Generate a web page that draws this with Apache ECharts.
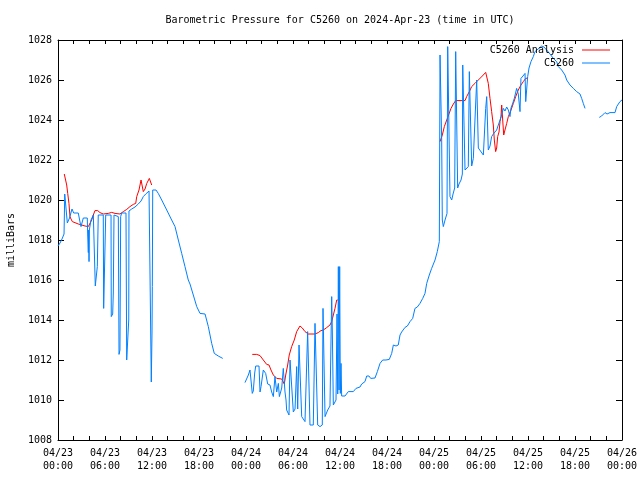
<!DOCTYPE html>
<html>
<head>
<meta charset="utf-8">
<script src="https://cdn.jsdelivr.net/npm/echarts@6/dist/echarts.min.js"></script>
<style>html,body{margin:0;padding:0;background:#fff}#c{width:640px;height:480px}</style>
</head>
<body>
<div id="c"></div>
<script>
// Hours since 2024-04-23 00:00 UTC; null marks a gap
const stationHours = [
0.00,0.26,0.51,0.77,0.86,1.02,1.19,1.28,1.47,1.66,1.79,1.95,2.00,2.59,2.81,2.94,3.15,3.23,3.74,3.79,3.87,3.92,3.96,4.00,4.21,4.51,4.72,4.76,4.94,5.02,5.14,5.78,5.83,6.00,6.09,6.77,6.80,6.98,7.06,7.15,7.70,7.79,7.91,8.00,8.13,8.68,8.77,8.94,9.03,9.06,9.41,9.83,10.25,10.60,10.89,11.20,11.62,11.83,11.91,12.00,12.04,12.09,
12.17,12.51,12.80,13.24,13.88,14.51,14.94,15.36,15.79,16.21,16.63,16.85,17.07,17.27,17.71,18.13,18.77,19.19,19.62,19.95,20.46,21.03,
22.0,
23.87,24.30,24.51,24.72,24.80,24.93,25.11,25.24,25.66,25.79,25.92,26.21,26.51,26.77,27.06,27.28,27.49,27.70,27.92,28.13,28.26,28.56,28.76,28.98,29.11,29.19,29.49,29.62,29.83,30.04,30.26,30.47,30.60,30.77,30.94,31.11,31.32,31.53,31.75,31.87,31.95,32.17,32.38,32.59,32.81,33.02,33.15,33.45,33.74,33.83,33.96,34.09,34.43,34.72,34.94,35.02,35.15,35.49,35.62,35.71,35.79,35.88,35.96,36.04,36.13,36.21,36.64,37.06,37.70,38.04,38.55,38.77,39.19,39.41,39.70,39.92,40.47,40.77,41.11,41.45,41.70,41.87,42.29,42.60,42.81,43.15,43.44,43.66,43.87,44.30,44.60,44.94,45.28,45.57,45.87,46.21,46.56,46.85,47.07,47.40,47.70,48.13,48.42,48.68,
48.77,48.89,48.98,49.06,49.19,49.41,49.66,49.75,49.91,50.04,50.26,50.43,50.64,50.77,50.89,51.02,51.19,51.45,51.62,51.67,51.83,51.96,52.17,52.38,52.51,52.68,52.81,53.02,53.23,53.45,53.57,53.66,53.87,54.30,54.60,54.73,54.85,54.93,55.15,55.36,55.57,55.79,56.00,56.21,56.43,56.64,56.85,57.06,57.28,57.49,57.70,57.83,58.02,58.25,58.55,58.76,58.98,59.10,59.36,59.62,59.71,59.87,59.96,60.13,60.38,60.68,60.89,61.11,61.75,62.04,62.38,62.81,63.23,63.66,63.87,64.30,64.72,64.94,65.36,65.79,66.21,66.64,66.85,67.06,67.28,
68.2,
69.10,69.40,69.57,69.83,70.09,70.47,71.11,71.32,71.74,72.00
];
const stationPressure = [
1017.7,1017.85,1018.05,1018.3,1020.3,1020.3,1018.85,1018.9,1019.1,1019.15,1019.55,1019.55,1019.35,1019.35,1018.9,1018.67,1018.67,1019.1,1019.1,1018.25,1017.37,1018.5,1016.92,1018.5,1019.0,1019.25,1019.25,1015.7,1015.75,1016.67,1019.25,1019.25,1014.58,1014.65,1019.25,1019.25,1014.17,1014.3,1015.35,1019.25,1019.17,1012.28,1012.5,1019.17,1019.35,1019.35,1012.0,1012.1,1014.0,1019.45,1019.55,1019.65,1019.8,1019.95,1020.17,1020.3,1020.45,1020.47,1010.9,1013.35,1015.67,1020.5,
1020.53,1020.5,1020.33,1020.0,1019.5,1019.0,1018.67,1018.0,1017.33,1016.67,1016.0,1015.8,1015.75,1015.25,1014.67,1014.33,1014.3,1013.67,1012.83,1012.33,1012.2,1012.08,
null,
1010.87,1011.25,1011.5,1011.5,1010.33,1010.45,1011.35,1011.7,1011.7,1010.4,1010.67,1011.5,1011.33,1010.8,1010.75,1010.4,1010.17,1011.17,1010.4,1010.83,1010.17,1010.6,1011.58,1010.4,1010.0,1009.5,1009.25,1012.0,1011.9,1009.4,1009.55,1011.67,1009.55,1012.75,1012.8,1009.17,1009.1,1008.92,1008.83,1013.42,1013.42,1008.75,1008.67,1008.75,1013.83,1013.9,1008.75,1008.67,1008.75,1014.58,1014.58,1009.17,1009.5,1009.7,1015.17,1013.5,1009.75,1010.0,1014.3,1010.3,1016.67,1010.5,1016.67,1010.33,1011.83,1010.2,1010.2,1010.42,1010.42,1010.58,1010.65,1010.8,1010.92,1011.2,1011.2,1011.08,1011.1,1011.42,1011.83,1012.0,1011.9,1012.0,1012.03,1012.33,1012.75,1012.7,1012.75,1013.25,1013.4,1013.63,1013.7,1013.92,1014.08,1014.58,1014.65,1014.83,1015.08,1015.33,1015.83,1016.25,1016.58,1017.0,1017.42,1017.92,
1027.25,1027.3,1023.0,1019.0,1018.67,1019.0,1019.33,1027.67,1027.7,1020.17,1020.0,1020.3,1020.6,1027.42,1027.35,1020.6,1020.8,1021.0,1021.3,1026.75,1026.7,1021.5,1021.4,1021.67,1026.42,1026.35,1021.7,1022.08,1022.08,1026.0,1025.95,1022.6,1022.5,1022.25,1024.58,1025.17,1025.1,1022.5,1022.7,1023.17,1023.3,1023.4,1023.5,1023.75,1024.0,1024.25,1024.58,1024.45,1024.65,1024.5,1024.17,1024.6,1024.8,1025.08,1025.58,1025.3,1024.42,1026.08,1026.2,1026.33,1024.92,1024.92,1026.17,1026.6,1026.92,1027.17,1027.42,1027.5,1027.7,1027.65,1027.5,1027.3,1027.08,1026.92,1026.67,1026.5,1026.25,1026.0,1025.75,1025.58,1025.42,1025.3,1025.08,1024.83,1024.58,
null,
1024.13,1024.2,1024.3,1024.37,1024.3,1024.37,1024.37,1024.67,1024.92,1025.0
];
const analysisHours = [
0.80,0.93,1.11,1.24,1.40,1.53,1.66,1.83,2.59,3.45,3.87,4.09,4.30,4.51,4.72,5.07,5.36,5.78,6.42,6.85,7.28,7.91,8.34,8.77,9.19,9.61,9.92,10.05,10.34,10.60,10.76,10.89,11.11,11.33,11.66,11.87,11.96,
18.0,
24.80,25.37,25.79,26.21,26.64,26.94,27.19,27.49,27.92,28.56,28.89,29.07,29.32,29.52,29.83,30.16,30.47,30.89,31.19,31.53,31.95,32.81,33.23,33.57,33.87,34.30,34.72,34.94,35.15,35.36,35.58,35.71,
42.0,
48.77,48.98,49.06,49.32,49.53,49.75,49.91,50.17,50.47,50.77,51.32,51.96,52.17,52.51,52.81,53.23,53.66,54.17,54.60,54.85,54.93,55.15,55.36,55.57,55.70,55.87,56.00,56.13,56.30,56.43,56.55,56.64,56.77,56.90,57.06,57.28,57.49,57.83,58.13,58.43,58.76,59.10,59.40,59.71,59.96
];
const analysisPressure = [
1021.3,1021.2,1020.75,1020.33,1019.83,1019.17,1019.05,1018.92,1018.8,1018.7,1018.67,1018.67,1019.0,1019.25,1019.47,1019.47,1019.37,1019.3,1019.33,1019.38,1019.33,1019.3,1019.42,1019.53,1019.67,1019.78,1019.83,1020.17,1020.5,1021.0,1021.0,1020.42,1020.55,1020.83,1021.08,1021.17,1020.75,
null,
1012.28,1012.28,1012.22,1012.0,1011.78,1011.75,1011.5,1011.25,1011.08,1011.05,1010.8,1011.25,1011.75,1012.25,1012.67,1013.0,1013.42,1013.7,1013.6,1013.42,1013.3,1013.3,1013.37,1013.47,1013.5,1013.62,1013.75,1013.92,1014.25,1014.58,1015.0,1015.0,
null,
1022.92,1023.0,1023.25,1023.67,1023.9,1024.13,1024.2,1024.58,1024.8,1024.97,1024.97,1024.97,1025.17,1025.42,1025.67,1025.83,1026.0,1026.2,1026.38,1026.42,1025.83,1025.08,1024.42,1023.75,1023.0,1022.42,1022.6,1023.17,1023.4,1023.92,1024.17,1024.75,1024.0,1023.25,1023.5,1023.83,1024.17,1024.5,1024.83,1025.17,1025.5,1025.75,1025.92,1026.08,1026.1
];
const xTickLabels = ['04/23\n00:00','04/23\n06:00','04/23\n12:00','04/23\n18:00','04/24\n00:00','04/24\n06:00','04/24\n12:00','04/24\n18:00','04/25\n00:00','04/25\n06:00','04/25\n12:00','04/25\n18:00','04/26\n00:00'];
const titleText = 'Barometric Pressure for C5260 on 2024-Apr-23 (time in UTC)';
const yName = 'milliBars';
const seriesNames = ['C5260 Analysis', 'C5260'];

const FONT = 'DejaVu Sans Mono';
const pair = (hs, vs) => hs.map((h, i) => [h, vs[i]]);

const chart = echarts.init(document.getElementById('c'), null, {renderer: 'canvas'});
const baseX = {
  type: 'value', min: 0, max: 72, interval: 6,
  axisLine: {show: true, onZero: false, lineStyle: {color: '#000', width: 1}},
  axisTick: {show: true, inside: true, length: 4, lineStyle: {color: '#000'}},
  minorTick: {show: true, splitNumber: 3, length: 4, lineStyle: {color: '#000'}},
  splitLine: {show: false}
};
const baseY = {
  type: 'value', min: 1008, max: 1028, interval: 2,
  axisLine: {show: true, onZero: false, lineStyle: {color: '#000', width: 1}},
  axisTick: {show: true, inside: true, length: 6, lineStyle: {color: '#000'}},
  splitLine: {show: false}
};
chart.setOption({
  animation: false,
  backgroundColor: '#fff',
  title: {
    text: titleText, left: 340, top: 15, padding: 0, textAlign: 'center',
    textStyle: {fontFamily: FONT, fontSize: 10, fontWeight: 'normal', color: '#000'}
  },
  legend: {
    orient: 'vertical', right: 30, top: 45, padding: 0, align: 'right',
    icon: 'rect', itemWidth: 28, itemHeight: 1, itemGap: 3,
    textStyle: {fontFamily: FONT, fontSize: 10, color: '#000', lineHeight: 10, padding: [0, 3, 0, 0]},
    data: seriesNames
  },
  grid: {left: 58, right: 18, top: 40, bottom: 40, containLabel: false, outerBoundsMode: 'none'},
  xAxis: [
    Object.assign({}, baseX, {
      position: 'bottom',
      axisLabel: {
        show: true, margin: 7, lineHeight: 13,
        fontFamily: FONT, fontSize: 10, color: '#000',
        formatter: v => xTickLabels[Math.round(v / 6)]
      }
    }),
    Object.assign({}, baseX, {position: 'top', axisLabel: {show: false}})
  ],
  yAxis: [
    Object.assign({}, baseY, {
      position: 'left',
      name: yName, nameLocation: 'middle', nameGap: 42, nameRotate: 90,
      nameTextStyle: {fontFamily: FONT, fontSize: 10, color: '#000'},
      axisLabel: {show: true, margin: 6, fontFamily: FONT, fontSize: 10, color: '#000',
        formatter: v => String(v)}
    }),
    Object.assign({}, baseY, {position: 'right', axisLabel: {show: false}})
  ],
  series: [
    {
      name: seriesNames[0], type: 'line', xAxisIndex: 0, yAxisIndex: 0,
      data: pair(analysisHours, analysisPressure),
      symbol: 'none', connectNulls: false,
      lineStyle: {color: '#ff0000', width: 1}, itemStyle: {color: '#ff0000'}
    },
    {
      name: seriesNames[1], type: 'line', xAxisIndex: 0, yAxisIndex: 0,
      data: pair(stationHours, stationPressure),
      symbol: 'none', connectNulls: false,
      lineStyle: {color: '#0080ff', width: 1}, itemStyle: {color: '#0080ff'}
    }
  ]
});
</script>
</body>
</html>
